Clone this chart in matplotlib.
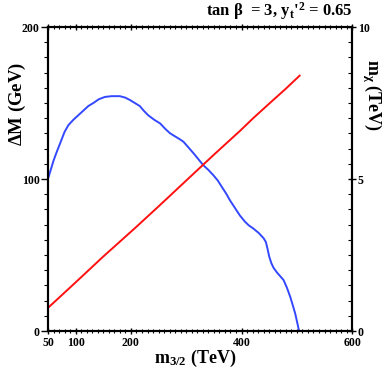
import matplotlib.pyplot as plt
from matplotlib.ticker import MultipleLocator, FixedLocator

# blue curve: mass splitting Delta M (GeV) vs m_3/2 (TeV)
m_dm = [50, 55, 60, 65, 72, 80, 87, 96, 105, 114, 123, 132, 142, 153, 165, 180,
        190, 198, 207, 216, 223, 231, 242, 253, 262, 271, 280, 289, 295, 301,
        307, 313, 322, 331, 340, 349, 357, 364, 372, 379, 388, 397, 406, 413,
        421, 431, 440, 444, 447, 450, 454, 458, 464, 470, 476, 482, 488, 493,
        497, 501, 504]
dM = [100, 106, 112, 117, 123.5, 131, 135.5, 139, 142, 145, 148, 150, 152.5, 154,
      154.5, 154.5, 153.5, 152, 150, 148, 145, 142, 139, 136.5, 133, 130, 128,
      126, 124.5, 122, 119.5, 117, 113, 109, 106, 102.5, 99, 95, 90.5, 86, 81,
      76, 72, 69.5, 67.5, 64.5, 61, 58.5, 54, 49, 44.5, 41.5, 38.5, 36, 33.5,
      28.5, 22.5, 16.5, 11.5, 5, 0]

# red curve: m_chi (TeV) vs m_3/2 (TeV)
m_chi_x = [50, 100, 150, 207, 250, 300, 350, 397, 421, 450, 480, 505]
m_chi = [0.76, 1.6, 2.45, 3.38, 4.1, 4.95, 5.8, 6.58, 7.0, 7.48, 7.97, 8.4]

xticks = [50, 100, 200, 400, 600]

plt.rcParams['font.family'] = ['Liberation Serif', 'DejaVu Serif']
plt.rcParams['font.weight'] = 'bold'
plt.rcParams['mathtext.fontset'] = 'custom'
plt.rcParams['mathtext.rm'] = 'Liberation Serif:bold'
plt.rcParams['mathtext.it'] = 'Liberation Serif:bold'
plt.rcParams['mathtext.bf'] = 'Liberation Serif:bold'

fig = plt.figure(figsize=(3.9, 3.82), dpi=100)
ax = fig.add_axes([0.123, 0.1335, 0.78, 0.7958])
ax2 = ax.twinx()

ax.plot(m_dm, dM, color='#3348ff', lw=1.4)
ax2.plot(m_chi_x, m_chi, color='#ff1010', lw=1.4)

ax.set_xlim(50, 600)
ax.set_ylim(0, 200)
ax2.set_ylim(0, 10)

ax.xaxis.set_major_locator(FixedLocator(xticks))
ax.xaxis.set_minor_locator(MultipleLocator(10))
ax.yaxis.set_major_locator(MultipleLocator(100))
ax.yaxis.set_minor_locator(MultipleLocator(10))
ax2.yaxis.set_major_locator(MultipleLocator(5))
ax2.yaxis.set_minor_locator(MultipleLocator(0.5))

ax.tick_params(axis='x', which='both', direction='inout', top=True, labelsize=8.5, pad=2)
ax.tick_params(axis='x', which='major', length=5, width=1)
ax.tick_params(axis='x', which='minor', length=3, width=0.8)
ax.tick_params(axis='y', which='major', direction='out', length=5, width=1, labelsize=8.5, pad=1)
ax.tick_params(axis='y', which='minor', direction='out', length=3, width=0.8)
ax2.tick_params(axis='y', which='major', direction='inout', length=6, width=1, labelsize=8.5, pad=1)
ax2.tick_params(axis='y', which='minor', direction='in', length=3, width=0.8)

for a in (ax, ax2):
    for s in a.spines.values():
        s.set_linewidth(1.5)

fig.text(0.5, 0.035, r'm$_{3/2}$ (TeV)', ha='center', va='bottom', fontsize=13, fontweight='bold')
fig.text(0.044, 0.728, r'$\Delta$M (GeV)', ha='center', va='center', rotation=90, fontsize=13.5, fontweight='bold')
fig.text(0.955, 0.75, r'm$_\chi$ (TeV)', ha='center', va='center', rotation=-90, fontsize=13, fontweight='bold')
fig.text(0.903, 0.943, r"tan $\beta$  = 3, y$_t$$'^2$ = 0.65", ha='right', va='bottom', fontsize=12, fontweight='bold')

fig.savefig('out.png', dpi=100)
